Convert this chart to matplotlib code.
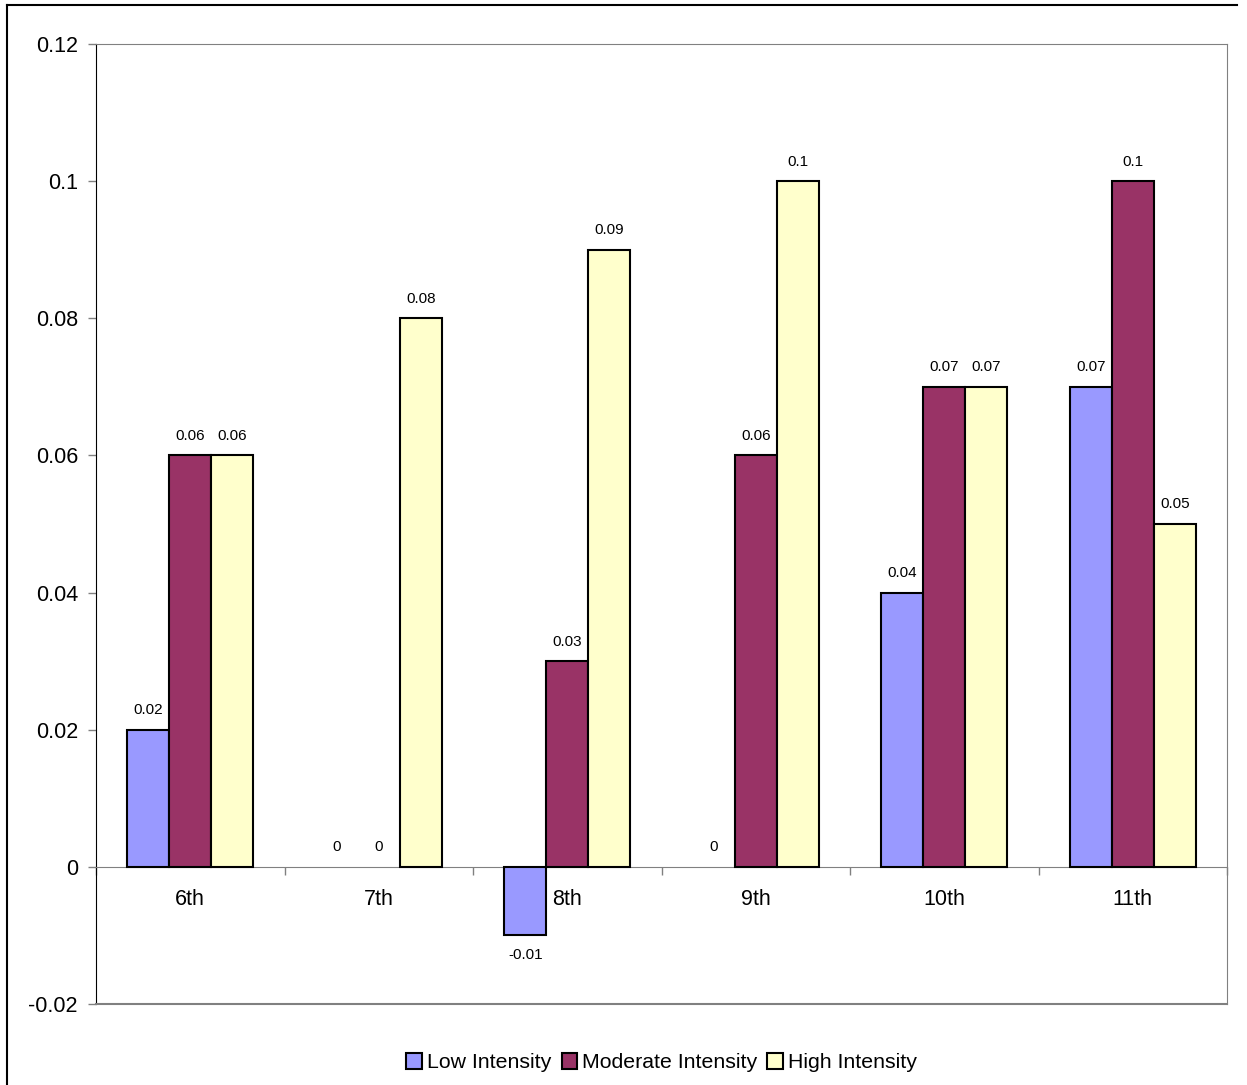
import matplotlib.pyplot as plt
from matplotlib.lines import Line2D
import numpy as np

plt.rcParams['font.family'] = ['Liberation Sans', 'DejaVu Sans']

grades = ['6th', '7th', '8th', '9th', '10th', '11th']
low = [0.02, 0, -0.01, 0, 0.04, 0.07]
moderate = [0.06, 0, 0.03, 0.06, 0.07, 0.10]
high = [0.06, 0.08, 0.09, 0.10, 0.07, 0.05]
series_names = ['Low Intensity', 'Moderate Intensity', 'High Intensity']
colors = ['#9999FF', '#993366', '#FFFFCC']

fig = plt.figure(figsize=(12.47, 10.85), dpi=100)
ax = fig.add_axes([96/1247, 1 - 1004/1085, (1227-96)/1247, 960/1085])

x = np.arange(len(grades))
w = 0.2228
all_bars = []
for i, (vals, name, c) in enumerate(zip([low, moderate, high], series_names, colors)):
    bars = ax.bar(x + (i - 1) * w, vals, w, color=c, edgecolor='black',
                  linewidth=1.5, label=name, zorder=3)
    # zero bars have no visible outline in the original
    for rect, v in zip(bars, vals):
        if v == 0:
            rect.set_linewidth(0)
    all_bars.append((bars, vals))

# data labels
for bars, vals in all_bars:
    for rect, v in zip(bars, vals):
        cx = rect.get_x() + rect.get_width() / 2
        if v < 0:
            ax.annotate('{:g}'.format(v), (cx, v), xytext=(0, -9),
                        textcoords='offset points', ha='center', va='top', fontsize=11)
        else:
            ax.annotate('{:g}'.format(v), (cx, v), xytext=(0, 9),
                        textcoords='offset points', ha='center', va='bottom', fontsize=11)

ax.set_xlim(-0.5, len(grades) - 0.5)
ax.set_ylim(-0.02, 0.12)

yt = [-0.02, 0, 0.02, 0.04, 0.06, 0.08, 0.1, 0.12]
ax.set_yticks(yt)
ax.set_yticklabels(['{:g}'.format(t) for t in yt], fontsize=15.5)
ax.tick_params(axis='y', direction='out', length=6, width=1, color='#808080', pad=7)

# category axis sits on zero
ax.spines['bottom'].set_position(('data', 0))
ax.spines['bottom'].set_color('#808080')
ax.set_xticks(np.arange(len(grades) + 1) - 0.5)
ax.set_xticklabels([])
ax.set_xticks(x, minor=True)
ax.set_xticklabels(grades, minor=True, fontsize=15.5)
ax.tick_params(axis='x', which='major', direction='out', length=6, width=1, color='#808080')
ax.tick_params(axis='x', which='minor', length=0, pad=16)

ax.spines['left'].set_color('black')
ax.spines['top'].set_color('#808080')
ax.spines['right'].set_color('#808080')
ax.axhline(-0.02, color='#808080', linewidth=1.5, clip_on=False, zorder=4)

leg = ax.legend(loc='center', bbox_to_anchor=(0.5, -0.061), ncol=3, frameon=False,
                fontsize=15.3, handlelength=0.75, handleheight=0.75,
                handletextpad=0.2, columnspacing=0.5, borderaxespad=0)
for h in leg.legend_handles:
    h.set_linewidth(1.5)

# outer chart border
fig.add_artist(Line2D([7/1247, 1237/1247], [1 - 5/1085, 1 - 5/1085], color='black', linewidth=1.5))
fig.add_artist(Line2D([7/1247, 7/1247], [0, 1 - 5/1085], color='black', linewidth=1.5))

fig.savefig('out.png', dpi=100)
